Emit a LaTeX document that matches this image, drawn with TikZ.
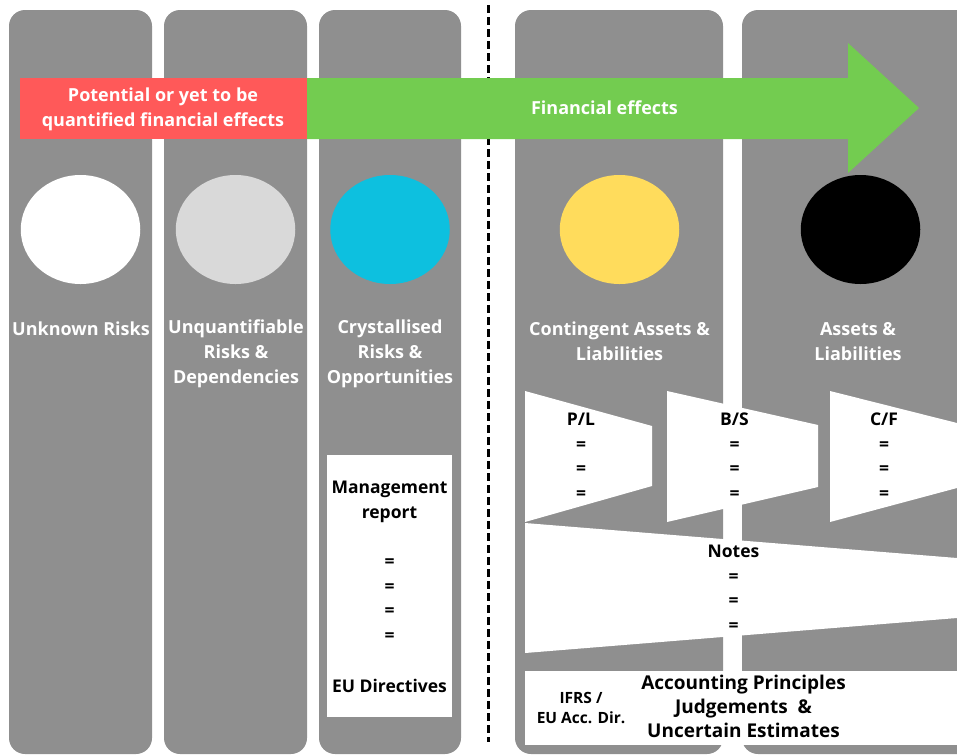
\documentclass[tikz,border=0pt]{standalone}
\usepackage{fontspec}
\usetikzlibrary{shapes.geometric}
\setmainfont{Open Sans}
\definecolor{colgrey}{RGB}{143,143,143}
\definecolor{redbar}{RGB}{255,89,89}
\definecolor{greenbar}{RGB}{115,204,80}
\definecolor{cyanc}{RGB}{13,192,223}
\definecolor{yellowc}{RGB}{255,220,92}
\definecolor{lgreyc}{RGB}{217,217,217}
\begin{document}
\begin{tikzpicture}[x=1pt,y=-1pt,
  column/.style={fill=colgrey, rounded corners=16pt},
  wlbl/.style={font=\bfseries\fontsize{18}{25}\selectfont, text=white, align=center, inner sep=0pt},
  blbl/.style={font=\bfseries\fontsize{17.5}{24.5}\selectfont, text=black, align=center, inner sep=0pt},
  slbl/.style={font=\bfseries\fontsize{15.5}{20.5}\selectfont, text=black, align=center, inner sep=0pt},
  disc/.style={ellipse, minimum width=119.5pt, minimum height=109pt, inner sep=0pt}
]
\useasboundingbox (0,0) rectangle (957,755);
\clip (0,0) rectangle (957,755);
% columns
\fill[column] (9,10) rectangle (152,754);
\fill[column] (164,10) rectangle (307,754);
\fill[column] (319,10) rectangle (461,754);
\fill[column] (515,10) rectangle (723,754);
\fill[column] (742,10) rectangle (990,754);
% dashed separator
\coordinate (septop) at (488,5);
\coordinate (sepbot) at (488,742);
\draw[line width=3pt, dash pattern=on 8pt off 4pt] (septop) -- (sepbot);
% bars
\fill[redbar] (20,78) rectangle (307,139);
\fill[greenbar] (307,78) -- (848,78) -- (848,43) -- (919,108) -- (848,173) -- (848,139) -- (307,139) -- cycle;
\node[wlbl] (pot) at (163,109) {Potential or yet to be\\quantified financial effects};
\node[wlbl] (fin) at (604.5,108) {Financial effects};
% discs
\node[disc, fill=white] (d1) at (80.5,229.5) {};
\node[disc, fill=lgreyc] (d2) at (235.5,229.5) {};
\node[disc, fill=cyanc] (d3) at (390,229.5) {};
\node[disc, fill=yellowc] (d4) at (619.5,229.5) {};
\node[disc, fill=black] (d5) at (860.5,229.5) {};
% labels
\node[wlbl] (l1) at (81,329) {Unknown Risks};
\node[wlbl] (l2) at (236,353.5) {Unquantifiable\\Risks \&\\Dependencies};
\node[wlbl] (l3) at (390,353.5) {Crystallised\\Risks \&\\Opportunities};
\node[wlbl] (l4) at (619.5,341.5) {Contingent Assets \&\\Liabilities};
\node[wlbl] (l5) at (858,341.5) {Assets \&\\Liabilities};
% management report box
\fill[white] (327,455) rectangle (452,717);
\node[blbl] (mr) at (389.5,502) {Management\\report};
\node[blbl] (mreq) at (389.5,600) {=\\=\\=\\=};
\node[blbl] (eud) at (389.5,686) {EU Directives};
% trapezoids
\fill[white] (525,391) -- (652,426) -- (652,486) -- (525,522) -- cycle;
\fill[white] (667,391) -- (818,425) -- (818,487) -- (667,522) -- cycle;
\fill[white] (830,391) -- (957,423) -- (957,488) -- (830,522) -- cycle;
\fill[white] (525,523) -- (957,558) -- (957,618) -- (525,653) -- cycle;
\node[blbl] (pl) at (581,456) {P/L\\=\\=\\=};
\node[blbl] (bs) at (734.5,456) {B/S\\=\\=\\=};
\node[blbl] (cf) at (884,456) {C/F\\=\\=\\=};
\node[blbl] (notes) at (733.5,588) {Notes\\=\\=\\=};
% bottom box
\fill[white] (525,671) rectangle (970,745);
\node[slbl] (ifrs) at (581,708) {IFRS /\\EU Acc. Dir.};
\node[blbl, font=\bfseries\fontsize{19}{24}\selectfont] (acc) at (743.5,706) {Accounting Principles\\Judgements\ \ \&\\Uncertain Estimates};
\end{tikzpicture}
\end{document}
